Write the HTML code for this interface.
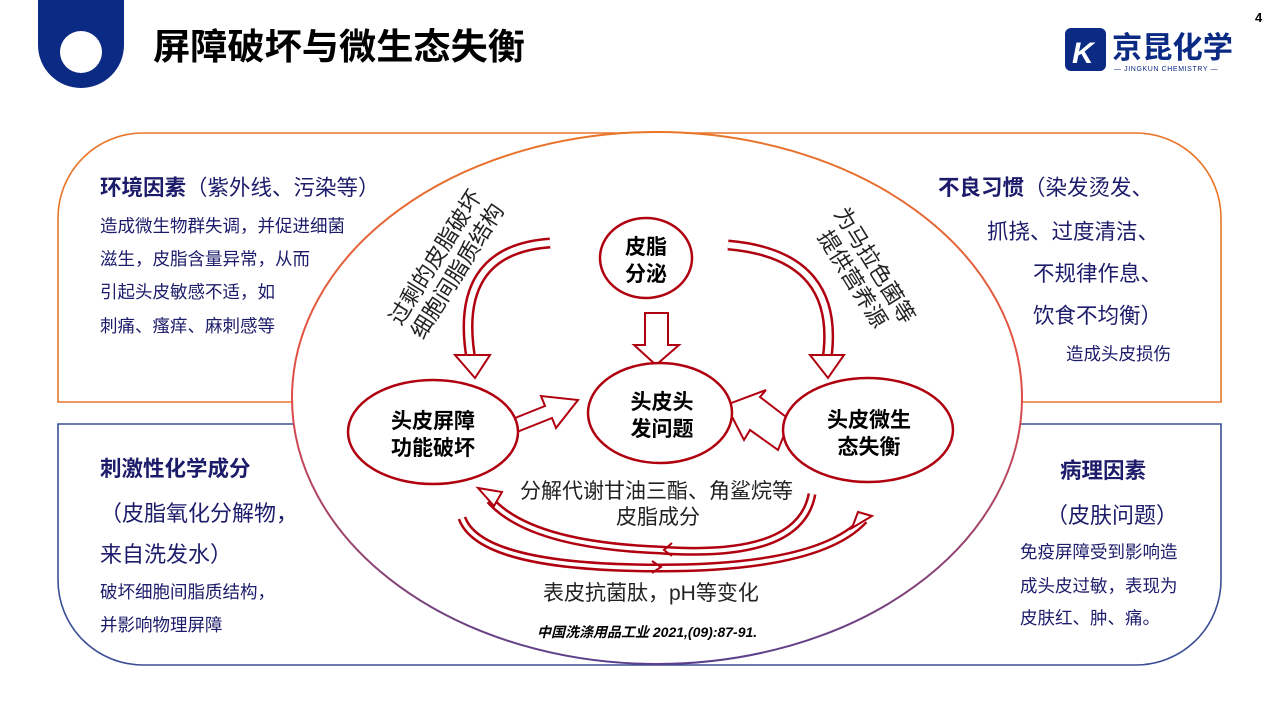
<!DOCTYPE html>
<html><head><meta charset="utf-8"><style>
html,body{margin:0;padding:0;background:#fff;}
body{width:1280px;height:720px;overflow:hidden;position:relative;font-family:"Liberation Sans","Noto Sans CJK SC",sans-serif;}
svg{position:absolute;left:0;top:0;}
text{font-family:"Liberation Sans","Noto Sans CJK SC",sans-serif;}
</style></head><body>
<svg width="1280" height="720" viewBox="0 0 1280 720">
<defs>
<linearGradient id="eg" x1="0" y1="0" x2="0" y2="1">
<stop offset="0" stop-color="#e8762a"/><stop offset="0.5" stop-color="#e04a4a"/><stop offset="1" stop-color="#5a3f8c"/>
</linearGradient>
</defs>
<!-- header -->
<path d="M38 0 H124 V45 A43 43 0 0 1 38 45 Z" fill="#0b2a84"/>
<circle cx="81" cy="52" r="21" fill="#fff"/>
<text x="153" y="59" font-size="36" font-weight="bold" fill="#000" textLength="372" lengthAdjust="spacingAndGlyphs">屏障破坏与微生态失衡</text>
<text x="1255" y="22" font-size="13" font-weight="bold" fill="#000">4</text>
<rect x="1065" y="28" width="41" height="43" rx="6" fill="#0b2a84"/>
<text x="1072" y="63" font-size="30" font-style="italic" font-weight="bold" fill="#fff">K</text>
<text x="1112" y="58" font-size="30" font-weight="bold" fill="#0b2a84" textLength="121" lengthAdjust="spacingAndGlyphs">京昆化学</text>
<text x="1114" y="71" font-size="7" fill="#0b2a84" letter-spacing="0.6">— JINGKUN CHEMISTRY —</text>

<!-- panels -->
<path d="M58 402 V218 A85 85 0 0 1 143 133 H1136 A85 85 0 0 1 1221 218 V402 Z" fill="#fff" stroke="#e8762a" stroke-width="1.6"/>
<path d="M58 424 H1221 V580 A85 85 0 0 1 1136 665 H143 A85 85 0 0 1 58 580 Z" fill="#fff" stroke="#3a4f96" stroke-width="1.6"/>
<ellipse cx="657" cy="398" rx="365" ry="266" fill="#fff" stroke="url(#eg)" stroke-width="2"/>

<!-- side texts -->
<g fill="#1c1c6b">
<text x="100" y="195" font-size="21.5"><tspan font-weight="bold">环境因素</tspan>（紫外线、污染等）</text>
<text x="100" y="232" font-size="17.5">造成微生物群失调，并促进细菌</text>
<text x="100" y="265" font-size="17.5">滋生，皮脂含量异常，从而</text>
<text x="100" y="298" font-size="17.5">引起头皮敏感不适，如</text>
<text x="100" y="332" font-size="17.5">刺痛、瘙痒、麻刺感等</text>

<text x="938" y="195" font-size="21.5"><tspan font-weight="bold">不良习惯</tspan>（染发烫发、</text>
<text x="987" y="239" font-size="21.5">抓挠、过度清洁、</text>
<text x="1033" y="281" font-size="21.5">不规律作息、</text>
<text x="1033" y="323" font-size="21.5">饮食不均衡）</text>
<text x="1066" y="360" font-size="17.5">造成头皮损伤</text>

<text x="100" y="476" font-size="21.5" font-weight="bold">刺激性化学成分</text>
<text x="100" y="521" font-size="22">（皮脂氧化分解物，</text>
<text x="100" y="562" font-size="22">来自洗发水）</text>
<text x="100" y="598" font-size="17.5">破坏细胞间脂质结构，</text>
<text x="100" y="631" font-size="17.5">并影响物理屏障</text>

<text x="1060" y="478" font-size="21.5" font-weight="bold">病理因素</text>
<text x="1046" y="523" font-size="22">（皮肤问题）</text>
<text x="1020" y="558" font-size="17.5">免疫屏障受到影响造</text>
<text x="1020" y="592" font-size="17.5">成头皮过敏，表现为</text>
<text x="1020" y="624" font-size="17.5">皮肤红、肿、痛。</text>
</g>

<!-- arrows -->
<g fill="none" stroke-linecap="butt">
<path d="M550 243 Q450 250 472 365" stroke="#b00010" stroke-width="11"/>
<path d="M550 243 Q450 250 472 365" stroke="#fff" stroke-width="6"/>
<path d="M728 245 Q845 255 826 365" stroke="#b00010" stroke-width="11"/>
<path d="M728 245 Q845 255 826 365" stroke="#fff" stroke-width="6"/>
<path d="M812 494 Q800 560 660 550 Q530 545 490 500" stroke="#b00010" stroke-width="9"/>
<path d="M812 494 Q800 560 660 550 Q530 545 490 500" stroke="#fff" stroke-width="4"/>
<path d="M462 518 Q480 568 660 568 Q820 568 864 520" stroke="#b00010" stroke-width="9"/>
<path d="M462 518 Q480 568 660 568 Q820 568 864 520" stroke="#fff" stroke-width="4"/>
</g>
<g fill="#fff" stroke="#b00010" stroke-width="2" stroke-linejoin="miter">
<polygon points="455,355 490,355 475,378"/>
<polygon points="810,355 844,355 828,378"/>
<polygon points="645,313 668,313 668,345 679,345 656,365 634,345 645,345"/>
<polygon points="500,424 545,406 541,396 578,400 556,428 552,418 507,436"/>
<polygon points="790,420 760,397 766,390 726,405 744,440 750,430 778,450"/>
<polygon points="478,488 502,492 494,506"/>
<polygon points="852,528 872,516 858,512"/>
</g>
<g fill="none" stroke="#b00010" stroke-width="2">
<polyline points="672,543 664,550 672,556"/>
<polyline points="652,561 661,567 652,573"/>
</g>

<!-- nodes -->
<g fill="#fff" stroke="#b00010" stroke-width="2.5">
<ellipse cx="646" cy="258" rx="46" ry="40"/>
<ellipse cx="660" cy="413" rx="72" ry="50"/>
<ellipse cx="433" cy="432" rx="85" ry="52"/>
<ellipse cx="868" cy="430" rx="85" ry="52"/>
</g>
<g font-size="21" font-weight="bold" fill="#000" text-anchor="middle">
<text x="646" y="254">皮脂</text><text x="646" y="281">分泌</text>
<text x="662" y="409">头皮头</text><text x="662" y="436">发问题</text>
<text x="433" y="428">头皮屏障</text><text x="433" y="455">功能破坏</text>
<text x="869" y="427">头皮微生</text><text x="869" y="454">态失衡</text>
</g>

<!-- rotated labels -->
<g font-size="22" fill="#222" text-anchor="middle">
<g transform="translate(446,264) rotate(-58)">
<text x="0" y="-5">过剩的皮脂破坏</text>
<text x="0" y="21">细胞间脂质结构</text>
</g>
<g transform="translate(864,272) rotate(58)">
<text x="0" y="-5">为马拉色菌等</text>
<text x="0" y="21">提供营养源</text>
</g>
</g>

<g fill="#222" font-size="21">
<text x="520" y="498">分解代谢甘油三酯、角鲨烷等</text>
<text x="616" y="524">皮脂成分</text>
<text x="543" y="600">表皮抗菌肽，pH等变化</text>
</g>
<text x="537" y="637" font-size="14" font-style="italic" font-weight="bold" fill="#000">中国洗涤用品工业 2021,(09):87-91.</text>
</svg>
</body></html>
